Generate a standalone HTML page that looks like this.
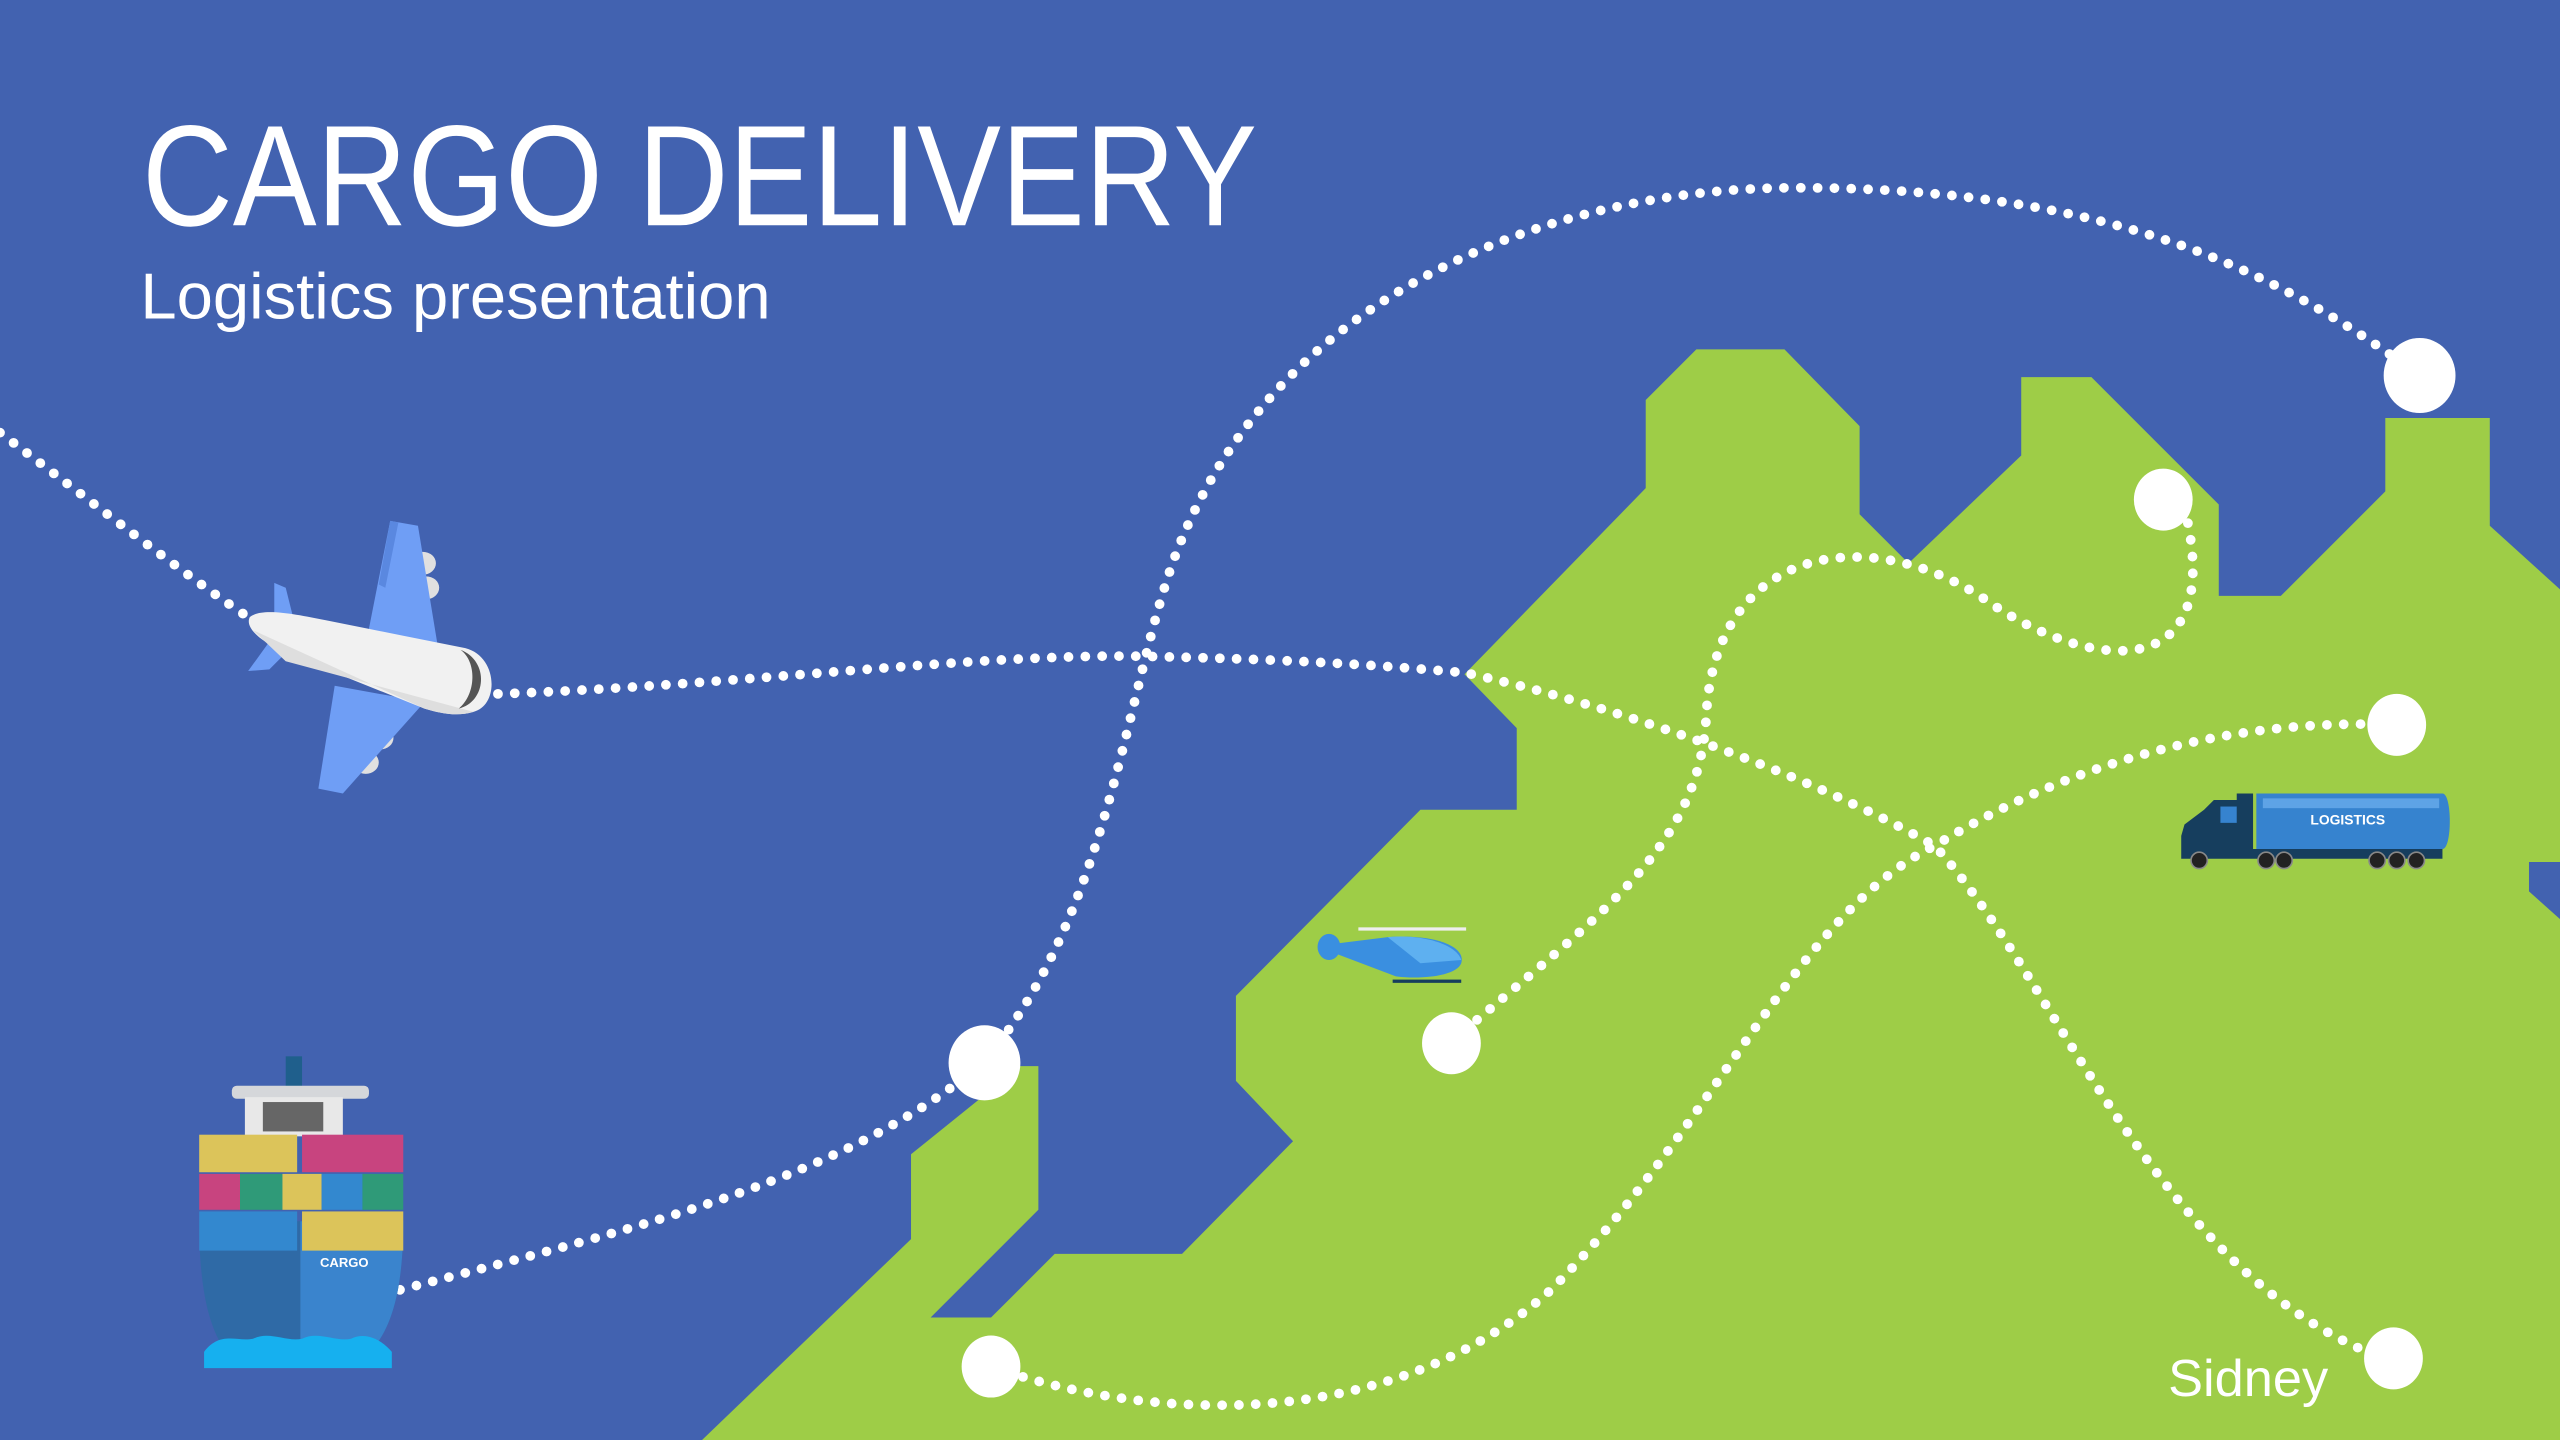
<!DOCTYPE html>
<html><head><meta charset="utf-8"><style>
html,body{margin:0;padding:0;background:#4262b0;}
svg{display:block}
</style></head><body>
<svg width="2560" height="1440" viewBox="0 0 1568 882" xmlns="http://www.w3.org/2000/svg">
<rect width="1568" height="882" fill="#4262b0"/>
<polygon fill="#9ecd47" points="430,882 558,759 558,707 625,653 636,653 636,741 570,807 607,807 646,768 724,768 792,699 757,662 757,610 870,496 929,496 929,446 897,413 1008,299 1008,245 1039,214 1093,214 1139,261 1139,315 1169,345 1238,279 1238,231 1281,231 1359,309 1359,365 1397,365 1461,301 1461,256 1525,256 1525,322 1568,361 1568,882"/>
<polygon fill="#4262b0" points="1549,528 1568,528 1568,563 1549,546"/>
<g fill="none" stroke="#fff" stroke-width="6" stroke-linecap="round" stroke-dasharray="0 10.3">
<path d="M0,265 C60,310 110,350 155,380"/>
<path d="M305,425 C450,420 600,400 700,402 S850,408 897,412 C980,430 1100,470 1185,518 C1260,600 1320,780 1460,832"/>
<path d="M245,790 C400,750 520,720 602,651 C680,560 690,420 720,340 C780,180 950,115 1100,115 C1300,115 1400,170 1482,230"/>
<path d="M889,638 C980,560 1040,520 1045,440 C1050,330 1150,320 1220,370 C1280,410 1360,420 1340,320"/>
<path d="M607,837 C700,870 850,880 950,790 C1050,690 1100,560 1185,518 C1280,460 1380,440 1468,444"/>
</g>
<g fill="#fff">
<ellipse cx="1482" cy="230" rx="22" ry="23"/>
<ellipse cx="1325" cy="306" rx="18" ry="19"/>
<ellipse cx="1468" cy="444" rx="18" ry="19"/>
<ellipse cx="603" cy="651" rx="22" ry="23"/>
<ellipse cx="889" cy="639" rx="18" ry="19"/>
<ellipse cx="607" cy="837" rx="18" ry="19"/>
<ellipse cx="1466" cy="832" rx="18" ry="19"/>
</g>
<text x="87" y="138" font-family="Liberation Sans, sans-serif" font-size="88" fill="#fff" textLength="683" lengthAdjust="spacingAndGlyphs">CARGO DELIVERY</text>
<text x="86" y="195" font-family="Liberation Sans, sans-serif" font-size="40" fill="#fff" textLength="386" lengthAdjust="spacingAndGlyphs">Logistics presentation</text>
<text x="1328" y="855" font-family="Liberation Sans, sans-serif" font-size="32" fill="#fff" textLength="98" lengthAdjust="spacingAndGlyphs">Sidney</text>
<!-- plane -->
<g>
<ellipse cx="259" cy="345" rx="8" ry="7" fill="#e0e0e0"/>
<ellipse cx="261" cy="360" rx="8" ry="7" fill="#e0e0e0"/>
<ellipse cx="233" cy="452" rx="8" ry="7" fill="#e0e0e0"/>
<ellipse cx="224" cy="467" rx="8" ry="7" fill="#e0e0e0"/>
<polygon fill="#6f9ef5" points="239,319 256,322 268,395 225,390"/>
<polygon fill="#5a88e0" points="239,319 244,320 236,360 232,358"/>
<polygon fill="#6f9ef5" points="205,420 260,430 210,486 195,483"/>
<polygon fill="#6f9ef5" points="168,357 175,360 182,388 168,385"/>
<polygon fill="#6f9ef5" points="165,393 180,395 165,410 152,411"/>
<path d="M153,378 C160,372 180,376 200,380 L285,397 C305,402 306,432 290,436 C280,439 270,437 260,434 L175,400 C158,392 150,384 153,378 Z" fill="#f1f1f1"/>
<path d="M155,386 L260,434 C270,437 280,439 290,436 L175,405 Z" fill="#dedede"/>
<path d="M282,398 C292,405 292,425 281,434 C298,430 300,405 282,398 Z" fill="#555"/>
</g>
<!-- ship -->
<g>
<rect x="175" y="647" width="10" height="20" fill="#1f5f8c"/>
<rect x="142" y="665" width="84" height="8" rx="3" fill="#d5d7da"/>
<rect x="150" y="672" width="60" height="24" fill="#e8e8e8"/>
<rect x="161" y="675" width="37" height="18" fill="#666"/>
<path d="M122,748 L247,748 C247,790 240,815 225,830 L140,830 C128,815 122,790 122,748 Z" fill="#2f6aa6"/>
<path d="M184,748 L247,748 C247,790 240,815 225,830 L184,830 Z" fill="#3a84cd"/>
<rect x="122" y="695" width="60" height="23" fill="#dcc45a"/>
<rect x="185" y="695" width="62" height="23" fill="#c8447f"/>
<rect x="122" y="719" width="25" height="22" fill="#c8447f"/>
<rect x="147" y="719" width="26" height="22" fill="#2f9a78"/>
<rect x="173" y="719" width="24" height="22" fill="#dcc45a"/>
<rect x="197" y="719" width="25" height="22" fill="#3388cf"/>
<rect x="222" y="719" width="25" height="22" fill="#2f9a78"/>
<rect x="122" y="742" width="60" height="24" fill="#3388cf"/>
<rect x="185" y="742" width="62" height="24" fill="#dcc45a"/>
<text x="196" y="776" font-family="Liberation Sans, sans-serif" font-size="8" font-weight="bold" fill="#fff">CARGO</text>
<path d="M125,828 C135,815 145,822 155,820 C165,815 175,822 185,820 C195,815 205,822 215,820 C225,815 235,822 240,828 L240,838 L125,838 Z" fill="#16b0ef"/>
</g>
<!-- truck -->
<g>
<path d="M1382,486 L1496,486 C1502,486 1502,520 1496,520 L1382,520 Z" fill="#3683cf"/>
<rect x="1386" y="489" width="108" height="6" fill="#5ea3e6"/>
<text x="1438" y="505" font-family="Liberation Sans, sans-serif" font-size="8.5" font-weight="bold" fill="#fff" text-anchor="middle">LOGISTICS</text>
<path d="M1336,512 L1338,505 L1350,496 L1356,490 L1370,490 L1370,486 L1380,486 L1380,520 L1496,520 L1496,526 L1336,526 Z" fill="#163e5e"/>
<rect x="1360" y="494" width="10" height="10" fill="#3683cf"/>
<g fill="#222" stroke="#888" stroke-width="1">
<circle cx="1347" cy="527" r="5"/><circle cx="1388" cy="527" r="5"/><circle cx="1399" cy="527" r="5"/>
<circle cx="1456" cy="527" r="5"/><circle cx="1468" cy="527" r="5"/><circle cx="1480" cy="527" r="5"/>
</g>
</g>
<!-- helicopter -->
<g>
<rect x="832" y="568" width="66" height="2" fill="#eee"/>
<ellipse cx="814" cy="580" rx="7" ry="8" fill="#3a8fe0"/>
<path d="M818,578 L850,574 C880,572 898,580 895,590 C892,598 870,600 855,598 L818,584 Z" fill="#3a8fe0"/>
<path d="M850,574 C870,572 892,578 895,588 L870,590 Z" fill="#5eb0f0"/>
<rect x="853" y="600" width="42" height="2" fill="#163e5e"/>
</g>
</svg>
</body></html>
